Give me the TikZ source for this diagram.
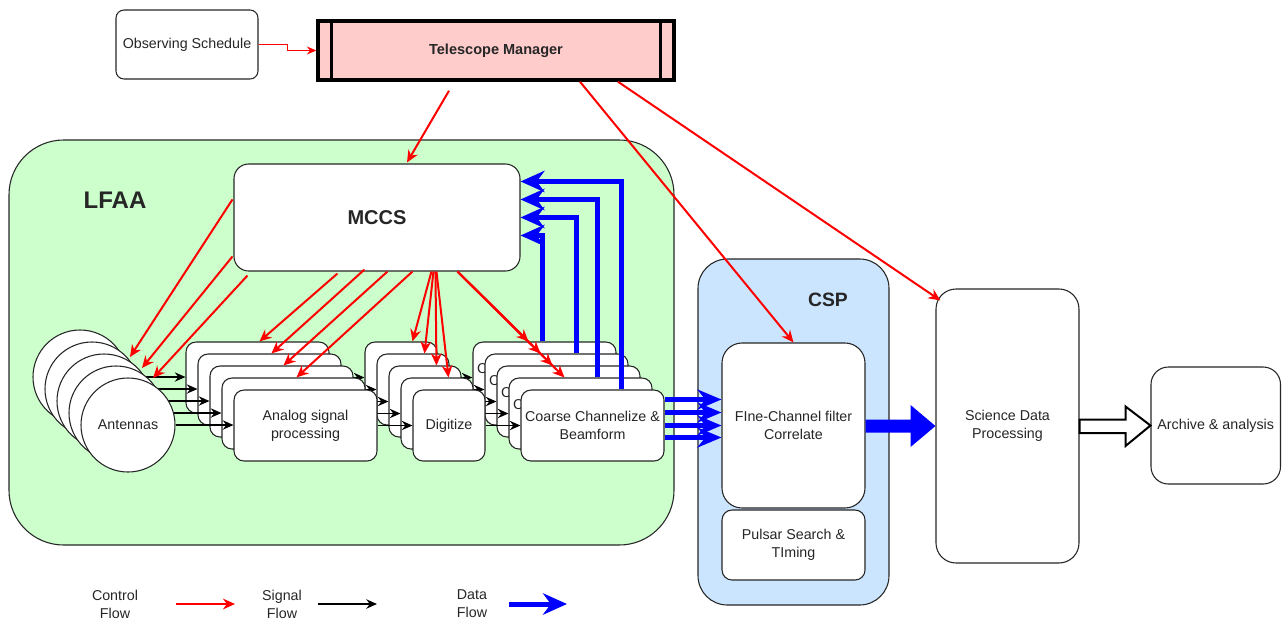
\documentclass[tikz,border=0pt]{standalone}
\usepackage{fontspec}
\setmainfont{Liberation Sans}
\usetikzlibrary{arrows.meta,calc}
\definecolor{lgreen}{HTML}{CCFFCC}
\definecolor{cspblue}{HTML}{CCE5FF}
\definecolor{tmred}{HTML}{FFCCCC}
\begin{document}
\begin{tikzpicture}[x=0.75pt,y=-0.75pt,
  every node/.style={font=\fontsize{10.7}{13.5}\selectfont, text=black!85},
  sz/.style 2 args={minimum width=#1*0.75pt, minimum height=#2*0.75pt},
  box/.style={draw=black!85, line width=0.8pt, fill=white, rounded corners=7.5pt, inner sep=0pt, align=center},
  antc/.style={circle, draw=black!85, line width=0.8pt, fill=white, minimum size=70.5pt, inner sep=0pt},
  ctrl/.style={draw=red, line width=1.5pt, -{Stealth[length=9pt,width=8pt]}},
  sig/.style={draw=black, line width=1.1pt, -{Stealth[length=8pt,width=7pt]}},
  data/.style={draw=blue, line width=3.75pt, -{Stealth[length=18pt,width=16pt]}},
  bigfont/.style={font=\bfseries\fontsize{15}{18}\selectfont},
]
\useasboundingbox (0,0) rectangle (1282,622);

% top
\node[box, rounded corners=6pt, sz={142}{69}] (os) at (187,44.5) {Observing Schedule};
\node[draw=black, line width=2.6pt, fill=tmred, inner sep=0pt, sz={356}{59},
      font=\bfseries\fontsize{10.9}{13}\selectfont] (tm) at (496,50.5) {Telescope Manager};
\draw[line width=2.6pt] ($(tm.north west)+(15,1)$) -- ($(tm.south west)+(15,-1)$);
\draw[line width=2.6pt] ($(tm.north east)+(-15,1)$) -- ($(tm.south east)+(-15,-1)$);
\draw[red, line width=0.9pt, -{Stealth[length=7pt,width=6pt]}] (os.east) -- ++(29,0) |- (tm.west);

% LFAA
\node[draw=black!85, line width=0.8pt, fill=lgreen, rounded corners=41pt, inner sep=0pt, sz={665}{405}] (lfaa) at (341.5,342.5) {};
\node[font=\bfseries\fontsize{18}{20}\selectfont] (lfaal) at (115,200) {LFAA};
\node[box, rounded corners=11pt, sz={286}{107}, bigfont] (mccs) at (377,217.5) {MCCS};

% stacked layers
\foreach \i in {0,...,3}{
  \pgfmathsetmacro\o{12*\i}
  \node[antc] (ant\i) at (80+\o,377+\o) {};
  \node[box, sz={143}{71}] (an\i) at (257.5+\o,377.5+\o) {};
  \node[box, sz={72}{71}] (dg\i) at (401+\o,377.5+\o) {};
  \node[box, sz={143}{71}] (cc\i) at (544.5+\o,377.5+\o) {Coarse Channelize \&\\Beamform};
  \draw[sig] (ant\i.east) -- (ant\i.east -| an\i.west);
  \draw[sig] (an\i.east) -- (dg\i.west);
  \draw[sig] (dg\i.east) -- (cc\i.west);
}
\node[antc] (ant4) at (128,425) {Antennas};
\node[box, sz={143}{71}] (an4) at (305.5,425.5) {Analog signal\\processing};
\node[box, sz={72}{71}] (dg4) at (449,425.5) {Digitize};
\node[box, sz={143}{71}] (cc4) at (592.5,425.5) {Coarse Channelize \&\\Beamform};
\draw[sig] (ant4.east) -- (ant4.east -| an4.west);
\draw[sig] (an4.east) -- (dg4.west);
\draw[sig] (dg4.east) -- (cc4.west);

% CSP
\node[draw=black!85, line width=0.8pt, fill=cspblue, rounded corners=22pt, inner sep=0pt, sz={191}{346}] (csp) at (793.5,432) {};
\node[font=\bfseries\fontsize{14.5}{17}\selectfont] (cspl) at (828,300) {CSP};
\node[box, rounded corners=15pt, sz={143}{165}] (fc) at (793.5,425.5) {FIne-Channel filter\\Correlate};
\node[box, sz={143}{70}] (ps) at (793.5,545) {Pulsar Search \&\\TIming};

% SDP and archive
\node[box, rounded corners=15pt, sz={143}{274}] (sdp) at (1007.5,426) {Science Data\\Processing};
\node[box, rounded corners=13pt, sz={129.5}{117}] (arc) at (1215.75,425.5) {Archive \& analysis};

% control arrows from MCCS
\draw[ctrl] ($(mccs.north west)+(-1,36)$) -- ($(ant0.center)+(50,-20)$);
\draw[ctrl] ($(mccs.north west)+(-1,93)$) -- ($(ant1.center)+(50,-21)$);
\draw[ctrl] ($(mccs.south west)+(14,4)$) -- ($(ant2.center)+(49,-23)$);
\draw[ctrl] ($(mccs.south west)+(104,2)$) -- ($(an0.north west)+(74,0)$);
\draw[ctrl] ($(mccs.south west)+(131,-2)$) -- ($(an1.north west)+(74,0)$);
\draw[ctrl] ($(mccs.south west)+(154,0)$) -- ($(an2.north west)+(74,0)$);
\draw[ctrl] ($(mccs.south west)+(179,0)$) -- ($(an3.north west)+(75,0)$);
\foreach \i/\s in {0/198,1/200,2/202,3/203}
  \draw[ctrl] ($(mccs.south west)+(\s,0)$) -- ($(dg\i.north west)+(48,0)$);
\foreach \i in {0,...,3}
  \draw[ctrl] ($(mccs.south west)+(224,0)$) -- ($(cc\i.north west)+(56,0)$);

% control arrows from TM
\draw[ctrl] ($(tm.south)+(-47,9)$) -- ($(mccs.north)+(30,-1)$);
\draw[ctrl] ($(tm.south)+(84,0)$) -- (fc.north);
\draw[ctrl] ($(tm.south)+(122,0)$) -- ($(sdp.north west)+(5,12)$);

% data back to MCCS
\draw[data] ($(cc0.north west)+(70,0)$) |- ($(mccs.north east)+(0,72)$);
\draw[data] ($(cc1.north west)+(92,0)$) |- ($(mccs.north east)+(0,54)$);
\draw[data] ($(cc3.north west)+(89,0)$) |- ($(mccs.north east)+(0,36)$);
\draw[data] ($(cc4.north west)+(101,0)$) |- ($(mccs.north east)+(0,18)$);

% data to CSP
\foreach \dy in {-26,-13,0,12}
  \draw[data, -{Stealth[length=18pt,width=15pt]}] ($(cc4.east)+(0,\dy)$) -- ($(fc.west)+(0,\dy)$);

% big blue arrow CSP -> SDP
\fill[blue] ($(fc.east)+(0,-6)$) -- ($(fc.east)+(45,-6)$) -- ($(fc.east)+(45,-20.5)$)
  -- (sdp.west) -- ($(fc.east)+(45,21.5)$) -- ($(fc.east)+(45,7)$) -- ($(fc.east)+(0,7)$) -- cycle;

% hollow arrow SDP -> archive
\draw[black, line width=1.5pt, fill=white, line join=miter]
  ($(sdp.east)+(0,-6.5)$) -- ($(sdp.east)+(46,-6.5)$) -- ($(sdp.east)+(46,-19.5)$)
  -- (arc.west) -- ($(sdp.east)+(46,20)$) -- ($(sdp.east)+(46,7)$) -- ($(sdp.east)+(0,7)$) -- cycle;

% legend
\node[align=center] (lc) at (115,604) {Control\\Flow};
\coordinate (lc1) at (176,604); \coordinate (lc2) at (235,604);
\draw[ctrl] (lc1) -- (lc2);
\node[align=center] (ls) at (282,604) {Signal\\Flow};
\coordinate (ls1) at (318,604); \coordinate (ls2) at (377,604);
\draw[sig, line width=1.5pt] (ls1) -- (ls2);
\node[align=center] (ld) at (472,604) {Data\\Flow};
\coordinate (ld1) at (509,604); \coordinate (ld2) at (567,604);
\draw[data] (ld1) -- (ld2);
\end{tikzpicture}
\end{document}
